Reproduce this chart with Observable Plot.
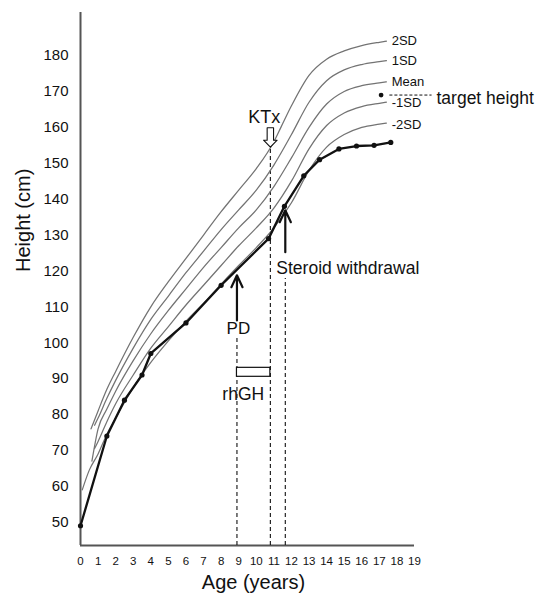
<!DOCTYPE html>
<html><head><meta charset="utf-8">
<script src="https://cdn.jsdelivr.net/npm/d3@7"></script>
<script src="https://cdn.jsdelivr.net/npm/@observablehq/plot@0.6"></script>
<style>
body{margin:0;background:#fff}
svg{font-family:"Liberation Sans",Arial,Helvetica,sans-serif}
</style>
</head><body><div id="chart"></div>
<script>
// Reference growth curves (age in years, height in cm)
const sdPlus2Ages = [0.6,1,1.5,2,3,4,5,6,7,8,9,10,11,11.4,12,13,14,15,16,17,17.4];
const sdPlus2 = [76,81,87,92,101.5,110,117,123.5,130,136.5,142.5,148.5,156,160,166,174.5,179,181.3,182.8,183.7,184];
const sdPlus1Ages = [0.8,1,1.5,2,3,4,5,6,7,8,9,10,11,12,13,14,15,16,17,17.4];
const sdPlus1 = [77,79,84.5,89.5,98.5,106.5,113,119.5,125.5,131.5,137,142.5,149.5,158,167,173,176,177.5,178.3,178.6];
const meanAges = [0.65,1,1.5,2,3,4,5,6,7,8,9,10,11,12,13,14,15,16,17,17.4];
const meanH = [67,76,81.5,86.5,95,102.5,109,115,121,126.5,132,137,143.5,151.5,160,166.5,170,171.6,172.4,172.7];
const sdMinus1Ages = [0.8,1,1.5,2,3,4,5,6,7,8,9,10,11,12,13,14,15,16,17,17.4];
const sdMinus1 = [70.5,72.5,78,83,91,98.5,104.5,110.5,116,121.5,127,132,137.5,145,154,160.5,164,165.8,166.7,167];
const sdMinus2Ages = [0.1,0.5,1,1.5,2,3,4,5,6,7,8,9,10,11,12,13,14,15,16,17,17.4];
const sdMinus2 = [59,64.5,69,74.5,79,87.5,94.5,100.5,106,111,116.3,121.5,126.5,132,139,148,154.5,158,160,160.9,161.2];
const curveLabels = ["2SD","1SD","Mean","-1SD","-2SD"];
const curveLabelHeights = [184.2,178.6,172.8,166.9,160.8];

// Patient measurements
const patientAges = [0,1.5,2.5,3.5,4,6,8,10.7,11.6,12.7,13.6,14.7,15.7,16.7,17.65];
const patientHeights = [49,74,84,91,97,105.5,116,129,138,146.5,151,154,154.8,155,155.8];

// Target height
const targetAge = 17.1, targetHeight = 169;

// Events (age in years)
const pdAge = 8.9, ktxAge = 10.8, steroidAge = 11.65;
const rhghStart = 8.9, rhghEnd = 10.8;

const xTicks = d3.range(0, 20);
const yTicks = d3.range(50, 190, 10);

const curves = [
  [sdPlus2Ages, sdPlus2], [sdPlus1Ages, sdPlus1], [meanAges, meanH],
  [sdMinus1Ages, sdMinus1], [sdMinus2Ages, sdMinus2]
].flatMap(([a, h], i) => a.map((age, j) => ({curve: curveLabels[i], age, h: h[j]})));
const patient = patientAges.map((age, i) => ({age, h: patientHeights[i]}));
const labelsData = curveLabels.map((t, i) => ({t, h: curveLabelHeights[i]}));

const hollowArrow = {
  draw(context, l) {
    const hw = 3.2, hh = 6.8, hl = 7;
    context.moveTo(-hw, 0);
    context.lineTo(-hw, -(l - hl));
    context.lineTo(-hh, -(l - hl));
    context.lineTo(0, -l);
    context.lineTo(hh, -(l - hl));
    context.lineTo(hw, -(l - hl));
    context.lineTo(hw, 0);
    context.closePath();
  }
};

const yBottom = 43.5, yTop = 192;
const ann = "Liberation Sans, Arial, sans-serif";

const chart = Plot.plot({
  width: 541, height: 601,
  marginLeft: 80, marginRight: 127, marginTop: 12, marginBottom: 56,
  x: {domain: [0, 19]},
  y: {domain: [yBottom, yTop]},
  style: {fontFamily: ann, background: "#fff"},
  marks: [
    Plot.axisX({ticks: xTicks, tickSize: 0, tickPadding: 11, fontSize: 11.5, label: null, color: "#111"}),
    Plot.axisY({ticks: yTicks, tickSize: 0, tickPadding: 12, fontSize: 15, label: null, color: "#111"}),
    Plot.ruleX([0], {y1: yBottom, y2: yTop, stroke: "#555", strokeWidth: 2}),
    Plot.ruleY([yBottom], {x1: 0, x2: 19, stroke: "#555", strokeWidth: 2}),
    // dashed event lines
    Plot.ruleX([pdAge], {y1: yBottom, y2: 101.2, stroke: "#111", strokeDasharray: "4,3", strokeWidth: 1.1}),
    Plot.ruleX([ktxAge], {y1: yBottom, y2: 154.4, stroke: "#111", strokeDasharray: "4,3", strokeWidth: 1.1}),
    Plot.ruleX([steroidAge], {y1: yBottom, y2: 117.9, stroke: "#111", strokeDasharray: "4,3", strokeWidth: 1.1}),
    // growth curves
    Plot.line(curves, {x: "age", y: "h", z: "curve", stroke: "#737373", strokeWidth: 1.25, curve: "monotone-x"}),
    Plot.text(labelsData, {x: 17.7, y: "h", text: "t", textAnchor: "start", fontSize: 13, fill: "#111"}),
    // patient
    Plot.line(patient, {x: "age", y: "h", stroke: "#111", strokeWidth: 2.3}),
    Plot.dot(patient, {x: "age", y: "h", r: 2.6, fill: "#111"}),
    // target height
    Plot.dot([targetHeight], {x: targetAge, y: d => d, r: 2.4, fill: "#111"}),
    Plot.ruleY([targetHeight], {x1: 17.6, x2: 20.0, stroke: "#111", strokeDasharray: "3,2", strokeWidth: 1}),
    Plot.text(["target height"], {x: 20.25, y: 168.2, text: d => d, textAnchor: "start", fontSize: 17.5, fill: "#111"}),
    // KTx
    Plot.text(["KTx"], {x: 10.45, y: 162.8, text: d => d, fontSize: 18, fill: "#111"}),
    Plot.vector([ktxAge], {x: d => d, y: 159.9, length: 19.5, rotate: 180, anchor: "start", shape: hollowArrow, stroke: "#111", fill: "#fff", strokeWidth: 1.1}),
    // PD
    Plot.arrow([pdAge], {x1: d => d, x2: d => d, y1: 106.2, y2: 118.8, stroke: "#111", strokeWidth: 2.2, headLength: 9, headAngle: 50}),
    Plot.text(["PD"], {x: 8.98, y: 104, text: d => d, fontSize: 17, fill: "#111"}),
    // Steroid withdrawal
    Plot.arrow([steroidAge], {x1: d => d, x2: d => d, y1: 125.2, y2: 136.9, stroke: "#111", strokeWidth: 2.2, headLength: 9, headAngle: 50}),
    Plot.text(["Steroid withdrawal"], {x: 11.14, y: 120.7, text: d => d, textAnchor: "start", fontSize: 17.5, fill: "#111"}),
    // rhGH
    Plot.rect([0], {x1: rhghStart, x2: rhghEnd, y1: 90.5, y2: 93, fill: "#fff", stroke: "#111", strokeWidth: 1.2}),
    Plot.text(["rhGH"], {x: 9.26, y: 85.6, text: d => d, fontSize: 17.5, fill: "#111"}),
    // axis titles
    Plot.text(["Height (cm)"], {frameAnchor: "left", text: d => d, rotate: -90, dx: -57, dy: -7, fontSize: 20, fill: "#111"}),
    Plot.text(["Age (years)"], {frameAnchor: "bottom", text: d => d, dx: 6, dy: 43, fontSize: 20, fill: "#111"})
  ]
});
document.getElementById("chart").appendChild(chart);
</script>
</body></html>
